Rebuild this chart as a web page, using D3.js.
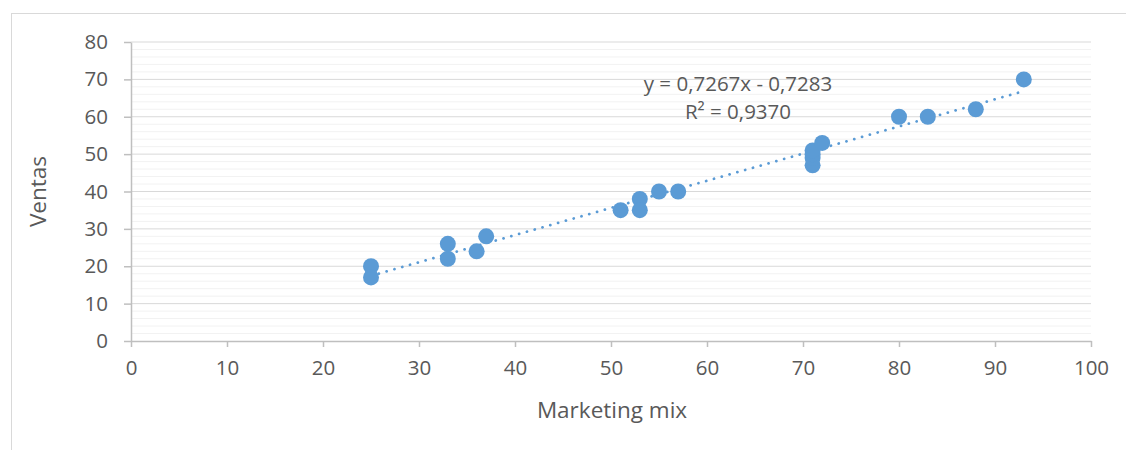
<!DOCTYPE html>
<html>
<head>
<meta charset="utf-8">
<script src="https://cdn.jsdelivr.net/npm/d3@7"></script>
<style>
  body { margin: 0; background: #fff; }
  svg text { font-family: "Open Sans", "Noto Sans", sans-serif; fill: #595959; }
</style>
</head>
<body>
<svg id="grafica" width="1126" height="450"></svg>
<script>
// datos
var marketing = [25, 25, 33, 33, 36, 37, 51, 53, 53, 55, 57, 71, 71, 71, 71, 72, 80, 83, 88, 93];
var ventas    = [20, 17, 26, 22, 24, 28, 35, 38, 35, 40, 40, 47, 49, 50, 51, 53, 60, 60, 62, 70];
var xTicks = [0, 10, 20, 30, 40, 50, 60, 70, 80, 90, 100];
var yTicks = [0, 10, 20, 30, 40, 50, 60, 70, 80];
var yMinor = [2, 4, 6, 8, 12, 14, 16, 18, 22, 24, 26, 28, 32, 34, 36, 38, 42, 44, 46, 48, 52, 54, 56, 58, 62, 64, 66, 68, 72, 74, 76, 78];
var pendiente = 0.7267, intercepto = -0.7283;
var ecuacion = ["y = 0,7267x - 0,7283", "R² = 0,9370"];

var data = marketing.map((d, i) => ({x: d, y: ventas[i]}));

var svg = d3.select("#grafica"),
    margin = {top: 42, bottom: 109, left: 131, right: 35},
    width = +svg.attr("width"),
    height = +svg.attr("height");

// marco del grafico
svg.append("rect")
    .attr("x", 11.5).attr("y", 13.5)
    .attr("width", 1200).attr("height", 600)
    .attr("fill", "none").attr("stroke", "#d9d9d9");

var x = d3.scaleLinear().domain([0, 100]).range([margin.left, width - margin.right]);
var y = d3.scaleLinear().domain([0, 80]).range([height - margin.bottom, margin.top]);

// lineas de division menores
svg.append("g").selectAll("line")
    .data(yMinor)
  .enter().append("line")
    .attr("x1", x(0)).attr("x2", x(100))
    .attr("y1", d => y(d)).attr("y2", d => y(d))
    .attr("stroke", "#f2f2f2").attr("stroke-width", 1);

// lineas de division principales
svg.append("g").selectAll("line")
    .data(yTicks.filter(d => d > 0))
  .enter().append("line")
    .attr("x1", x(0)).attr("x2", x(100))
    .attr("y1", d => y(d)).attr("y2", d => y(d))
    .attr("stroke", "#d9d9d9").attr("stroke-width", 1);

var xAxis = svg.append("g")
    .attr("transform", `translate(0,${y(0)})`)
    .call(d3.axisBottom(x).tickValues(xTicks).tickSize(6).tickSizeOuter(0).tickPadding(13));

var yAxis = svg.append("g")
    .attr("transform", `translate(${x(0)},0)`)
    .call(d3.axisLeft(y).tickValues(yTicks).tickSize(7).tickSizeOuter(0).tickPadding(16));

[xAxis, yAxis].forEach(a => {
  a.select(".domain").attr("stroke", "#bfbfbf").attr("stroke-width", 1.5);
  a.selectAll(".tick line").attr("stroke", "#bfbfbf").attr("stroke-width", 1.5);
  a.selectAll("text").style("font-size", "20.5px").attr("fill", "#595959")
    .style("font-family", "'Open Sans', sans-serif");
});

// linea de tendencia
var xmin = d3.min(marketing), xmax = d3.max(marketing);
svg.append("line")
    .attr("x1", x(xmin)).attr("y1", y(pendiente * xmin + intercepto))
    .attr("x2", x(xmax)).attr("y2", y(pendiente * xmax + intercepto))
    .attr("stroke", "#5b9bd5")
    .attr("stroke-width", 2.75)
    .attr("stroke-linecap", "round")
    .attr("stroke-dasharray", "0.1 8");

// puntos
svg.append("g").selectAll("circle")
    .data(data)
  .enter().append("circle")
    .attr("cx", d => x(d.x))
    .attr("cy", d => y(d.y))
    .attr("r", 8)
    .attr("fill", "#5b9bd5");

// ecuacion
svg.append("g").selectAll("text")
    .data(ecuacion)
  .enter().append("text")
    .attr("x", 738)
    .attr("y", (d, i) => 91 + i * 28)
    .attr("text-anchor", "middle")
    .style("font-size", "20.5px")
    .text(d => d);

// titulos de ejes
svg.append("text")
    .attr("x", x(50) + 1)
    .attr("y", 418)
    .attr("text-anchor", "middle")
    .style("font-size", "22.5px")
    .text("Marketing mix");

svg.append("text")
    .attr("transform", `translate(46,${y(40)}) rotate(-90)`)
    .attr("text-anchor", "middle")
    .style("font-size", "22.5px")
    .text("Ventas");
</script>
</body>
</html>
